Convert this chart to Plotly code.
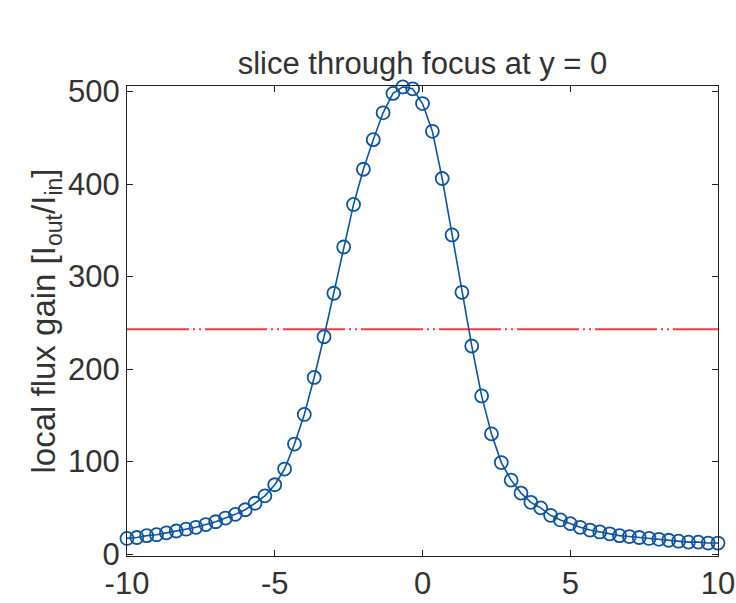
import plotly.graph_objects as go

# x positions: -10 .. 10 in steps of 1/3 (61 samples)
x_vals = [-10 + k / 3 for k in range(61)]
gain = [17, 18, 20, 21, 23, 25, 27, 29, 32, 35,
        39, 43, 48, 55, 63, 75, 92, 119, 151, 191,
        235, 282, 332, 378, 416, 448, 477, 498, 505, 503,
        487, 457, 406, 345, 283, 225, 171, 130, 99, 80,
        66, 56, 50, 42, 37, 33, 29, 26, 24, 22,
        20, 19, 18, 17, 16, 15, 14, 13, 13, 12, 12]
half_level = 243
x_ticks = [-10, -5, 0, 5, 10]
x_ticktext = ["-10", "-5", "0", "5", "10"]
y_ticks = [0, 100, 200, 300, 400, 500]

BLUE = "rgb(14,84,160)"
RED = "rgb(240,62,62)"
TXT = "#333333"
FONT = "Liberation Sans, Arial, sans-serif"
FS = 31

fig = go.Figure()
fig.add_trace(go.Scatter(
    x=[x_ticks[0], x_ticks[-1]], y=[half_level, half_level],
    mode="lines", line=dict(color=RED, width=2, dash="62px,4px,2px,4px,2px,4px"),
    hoverinfo="skip", showlegend=False, cliponaxis=False))
fig.add_trace(go.Scatter(
    x=x_vals, y=gain, mode="lines+markers",
    line=dict(color=BLUE, width=1.6),
    marker=dict(symbol="circle-open", size=13, color=BLUE, line=dict(width=1.8, color=BLUE)),
    showlegend=False, cliponaxis=False))

fig.update_layout(
    width=736, height=603,
    margin=dict(l=127, r=18, t=86, b=47, autoexpand=False),
    paper_bgcolor="white", plot_bgcolor="white",
    font=dict(family=FONT, size=FS, color=TXT),
    title=dict(text="slice through focus at y = 0", x=0.5, xref="paper", xanchor="center",
               y=1, yref="paper", yanchor="bottom", pad=dict(b=12),
               font=dict(family=FONT, size=FS, color=TXT)),
    xaxis=dict(range=[-10, 10], tickvals=x_ticks, ticktext=x_ticktext, automargin=False,
               showgrid=False, zeroline=False, showline=True, linecolor="#222222", linewidth=1,
               mirror="ticks", ticks="inside", ticklen=6, tickcolor="#222222",
               tickfont=dict(family=FONT, size=FS, color=TXT)),
    yaxis=dict(range=[-2, 506], tickvals=y_ticks, automargin=False,
               showgrid=False, zeroline=False, showline=True, linecolor="#222222", linewidth=1,
               mirror="ticks", ticks="inside", ticklen=6, tickcolor="#222222",
               tickfont=dict(family=FONT, size=FS, color=TXT),
               title=dict(text="local flux gain [I<sub>out</sub>/I<sub>in</sub>]", standoff=2,
                          font=dict(family=FONT, size=33, color=TXT))),
)

fig.write_html("out.html")
